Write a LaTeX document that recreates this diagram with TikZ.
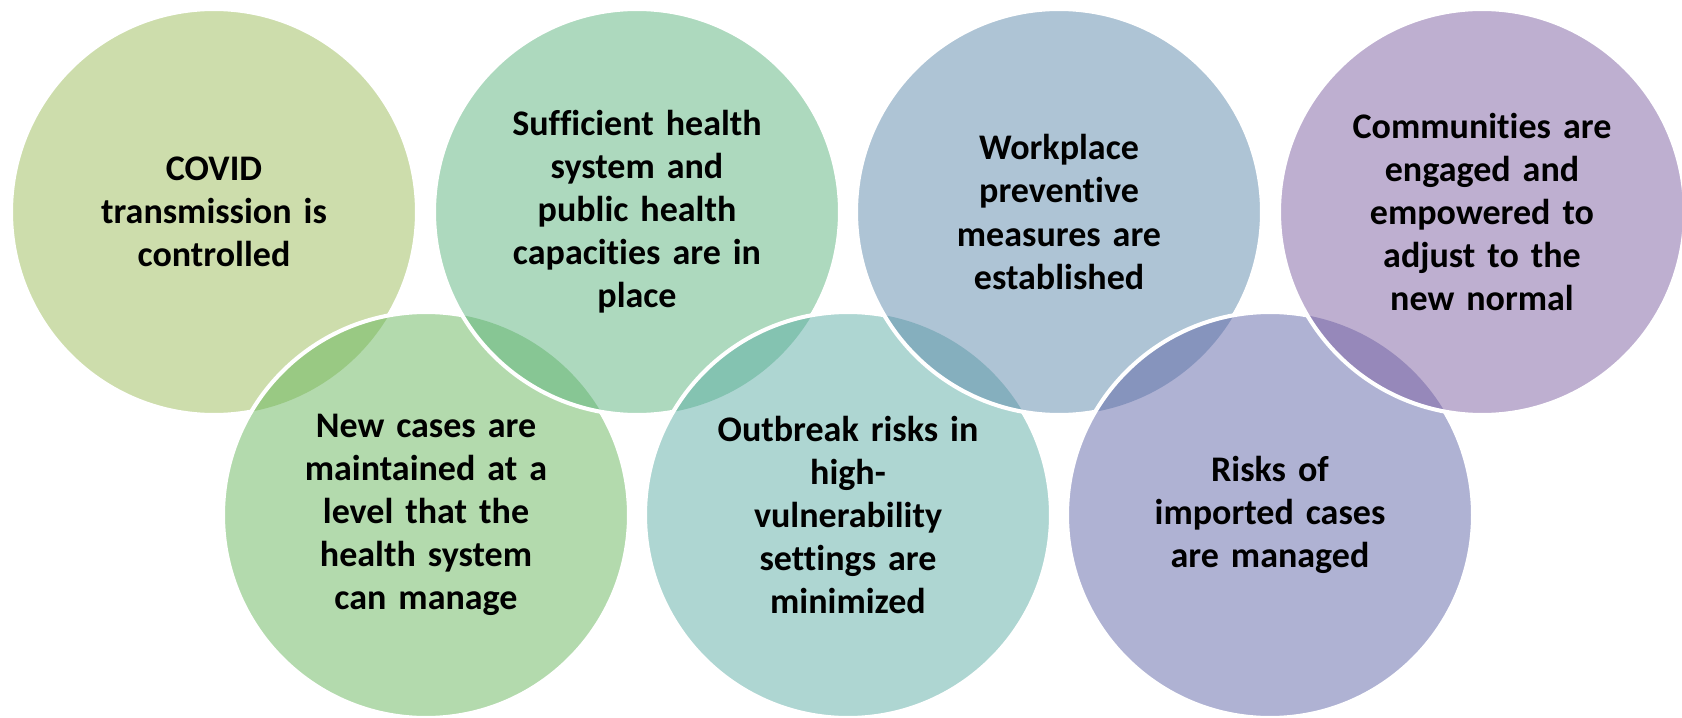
\documentclass[tikz,border=0pt]{standalone}
\usepackage{fontspec}
\setmainfont{Carlito}[Ligatures=NoCommon]
\usepackage{tikz}
\usetikzlibrary{shapes}

\definecolor{covidc}{RGB}{155,187,89}
\definecolor{casesc}{RGB}{103,181,91}
\definecolor{healthc}{RGB}{91,179,125}
\definecolor{outbreakc}{RGB}{93,173,165}
\definecolor{workc}{RGB}{93,137,171}
\definecolor{importc}{RGB}{95,101,167}
\definecolor{commc}{RGB}{125,95,161}

\tikzset{
  bubble/.style={circle, minimum size=8.12cm, inner sep=0pt, fill opacity=0.5, text opacity=1,
    align=center, text width=7cm, font=\bfseries\fontsize{20.5}{24.5}\selectfont},
  rim/.style={white, line width=2.3pt}
}

\begin{document}
\begin{tikzpicture}[scale=1]
		\useasboundingbox (0,0) rectangle (33.64,14.34);
		% top row and bottom row, drawn in zigzag order
		\node[bubble, fill=covidc] (covid) at (4.28,10.1) {COVID\\transmission is\\controlled};
		\begin{scope}[even odd rule]
		\clip (-1,-1) rectangle (35,16) (8.52,4.04) circle [radius=4.06];
		\draw[rim] (covid.center) circle [radius=4.06];
		\end{scope}
		\node[bubble, fill=casesc] (cases) at (8.52,4.04) {New cases are\\maintained at a\\level that the\\health system\\can manage};
		\begin{scope}[even odd rule]
		\clip (-1,-1) rectangle (35,16) (12.74,10.1) circle [radius=4.06];
		\draw[rim] (cases.center) circle [radius=4.06];
		\end{scope}
		\node[bubble, fill=healthc] (health) at (12.74,10.1) {Sufficient health\\system and\\public health\\capacities are in\\place};
		\begin{scope}[even odd rule]
		\clip (-1,-1) rectangle (35,16) (16.96,4.04) circle [radius=4.06];
		\draw[rim] (health.center) circle [radius=4.06];
		\end{scope}
		\node[bubble, fill=outbreakc] (outbreak) at (16.96,4.04) {Outbreak risks in\\high-\\vulnerability\\settings are\\minimized};
		\begin{scope}[even odd rule]
		\clip (-1,-1) rectangle (35,16) (21.18,10.1) circle [radius=4.06];
		\draw[rim] (outbreak.center) circle [radius=4.06];
		\end{scope}
		\node[bubble, fill=workc] (work) at (21.18,10.1) {Workplace\\preventive\\measures are\\established};
		\begin{scope}[even odd rule]
		\clip (-1,-1) rectangle (35,16) (25.4,4.04) circle [radius=4.06];
		\draw[rim] (work.center) circle [radius=4.06];
		\end{scope}
		\node[bubble, fill=importc] (import) at (25.4,4.04) {Risks of\\imported cases\\are managed};
		\begin{scope}[even odd rule]
		\clip (-1,-1) rectangle (35,16) (29.64,10.1) circle [radius=4.06];
		\draw[rim] (import.center) circle [radius=4.06];
		\end{scope}
		\node[bubble, fill=commc] (comm) at (29.64,10.1) {Communities are\\engaged and\\empowered to\\adjust to the\\new normal};
		\draw[rim] (comm.center) circle [radius=4.06];
\end{tikzpicture}
\end{document}
